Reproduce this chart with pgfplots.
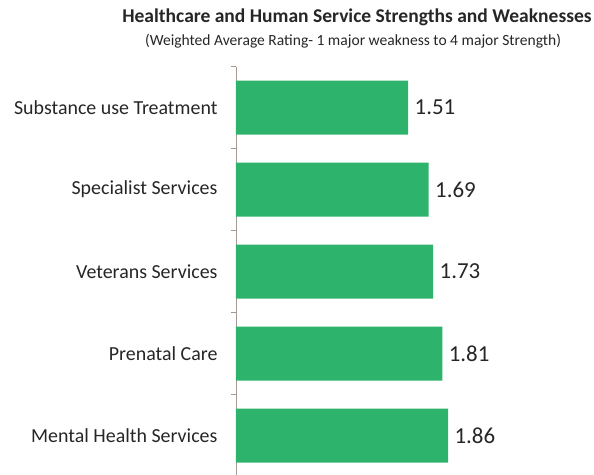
\documentclass[border=0pt]{standalone}
\usepackage{pgfplots}
\pgfplotsset{compat=1.18}
\usepackage{fontspec}
\setmainfont{Carlito}
\definecolor{barg}{HTML}{2DB36B}
\definecolor{axc}{HTML}{A39A92}
\begin{document}
\begin{tikzpicture}[x=1bp,y=1bp]
\begin{axis}[
  at={(207,-2)}, anchor=south west,
  scale only axis, width=342bp, height=410bp,
  xmin=0, xmax=3, ymin=-0.5, ymax=4.5,
  xbar, bar width=54bp, bar shift=0pt,
  axis x line=none,
  axis y line*=left,
  y axis line style={axc, line width=0.8pt},
  ytick={0,1,2,3,4},
  yticklabels={Mental Health Services, Prenatal Care, Veterans Services, Specialist Services, Substance use Treatment},
  major tick length=0pt,
  extra y ticks={-0.5,0.5,1.5,2.5,3.5,4.5},
  extra y tick labels={},
  extra y tick style={major tick length=5bp, tick style={axc, line width=0.8pt}, tick align=outside},
  yticklabel style={font=\fontsize{20}{24}\selectfont, color=black!85, xshift=-15bp},
  nodes near coords,
  nodes near coords style={font=\fontsize{23}{27}\selectfont, color=black!85, anchor=west, xshift=3bp},
  point meta=explicit symbolic,
  clip=false,
]
\addplot[fill=barg, draw=none] coordinates {
  (1.86,0) [1.86]
  (1.81,1) [1.81]
  (1.73,2) [1.73]
  (1.69,3) [1.69]
  (1.51,4) [1.51]
};
\end{axis}
\node[font=\bfseries\fontsize{19.6}{23}\selectfont, color=black!85] at (357,458) {Healthcare and Human Service Strengths and Weaknesses};
\node[font=\fontsize{15.6}{18}\selectfont, color=black!85] at (353,434) {(Weighted Average Rating- 1 major weakness to 4 major Strength)};
\pgfresetboundingbox
\useasboundingbox (0,0) rectangle (594,475);
\end{tikzpicture}
\end{document}
